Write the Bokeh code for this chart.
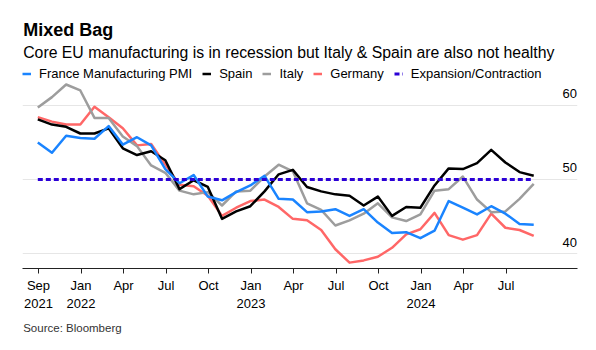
from bokeh.plotting import figure
from bokeh.models import (Range1d, FixedTicker, LinearAxis, Legend, LegendItem,
                          Title, Label)
from bokeh.embed import file_html
from bokeh.resources import INLINE

# ---- data (monthly PMI readings, month-end) ----
months = ["2021-09", "2021-10", "2021-11", "2021-12",
          "2022-01", "2022-02", "2022-03", "2022-04", "2022-05", "2022-06",
          "2022-07", "2022-08", "2022-09", "2022-10", "2022-11", "2022-12",
          "2023-01", "2023-02", "2023-03", "2023-04", "2023-05", "2023-06",
          "2023-07", "2023-08", "2023-09", "2023-10", "2023-11", "2023-12",
          "2024-01", "2024-02", "2024-03", "2024-04", "2024-05", "2024-06",
          "2024-07", "2024-08"]
france = [55.0, 53.6, 55.9, 55.6, 55.5, 57.2, 54.7, 55.7, 54.6, 51.4, 49.5, 50.6,
          47.7, 47.2, 48.3, 49.2, 50.5, 47.4, 47.3, 45.6, 45.7, 46.0, 45.1, 46.0,
          44.2, 42.8, 42.9, 42.1, 43.1, 47.1, 46.2, 45.3, 46.4, 45.4, 44.0, 43.9]
spain = [58.1, 57.4, 57.1, 56.2, 56.2, 56.9, 54.2, 53.3, 53.8, 52.6, 48.7, 49.9,
         49.0, 44.7, 45.7, 46.4, 48.4, 50.7, 51.3, 49.0, 48.4, 48.0, 47.8, 46.5,
         47.7, 45.1, 46.3, 46.2, 49.2, 51.5, 51.4, 52.2, 54.0, 52.3, 51.0, 50.5]
italy = [59.7, 61.1, 62.8, 62.0, 58.3, 58.3, 55.8, 54.5, 51.9, 50.9, 48.5, 48.0,
         48.3, 46.5, 48.4, 48.5, 50.4, 52.0, 51.1, 46.8, 45.9, 43.8, 44.5, 45.4,
         46.8, 44.9, 44.4, 45.3, 48.5, 48.7, 50.4, 47.3, 45.6, 45.7, 47.4, 49.4]
germany = [58.4, 57.8, 57.4, 57.4, 59.8, 58.4, 56.9, 54.6, 54.8, 52.0, 49.3, 49.1,
           47.8, 45.1, 46.2, 47.1, 47.3, 46.3, 44.7, 44.5, 43.2, 40.6, 38.8, 39.1,
           39.6, 40.8, 42.6, 43.3, 45.5, 42.5, 41.9, 42.5, 45.4, 43.5, 43.2, 42.4]
expansion = [50, 50, 50, 50, 50, 50, 50, 50, 50, 50, 50, 50,
             50, 50, 50, 50, 50, 50, 50, 50, 50, 50, 50, 50,
             50, 50, 50, 50, 50, 50, 50, 50, 50, 50, 50, 50]

x_tick_labels = ["Sep\n2021", "Jan\n2022", "Apr", "Jul", "Oct", "Jan\n2023",
                 "Apr", "Jul", "Oct", "Jan\n2024", "Apr", "Jul"]
y_ticks = [40, 50, 60]

series_names = ["France Manufacturing PMI", "Spain", "Italy", "Germany",
                "Expansion/Contraction"]

# ---- styling ----
FONT = "Liberation Sans"
C_FR = "#1a84ff"
C_ES = "#000000"
C_IT = "#9d9d9d"
C_DE = "#ff6767"
C_EX = "#2b00d6"

x = list(range(len(months)))
tick_pos = [0.05 + 3 * k for k in range(len(x_tick_labels))]

FB = 268  # frame bottom (canvas px); frame spans the full top area
Y0, Y1 = 38.01, 74.12
p = figure(width=596, height=350, output_backend="svg", toolbar_location=None,
           x_range=Range1d(-1.08, 38.09), y_range=Range1d(Y0, Y1),
           min_border_left=22, min_border_right=19, min_border_top=0,
           min_border_bottom=350 - FB, y_axis_location=None,
           outline_line_color=None, background_fill_color="white",
           border_fill_color="white")

p.xgrid.visible = False
p.ygrid.ticker = FixedTicker(ticks=y_ticks)
p.ygrid.grid_line_color = "#e6e6e6"
p.ygrid.grid_line_width = 1

xa = p.xaxis[0]
xa.ticker = FixedTicker(ticks=tick_pos)
xa.major_label_overrides = {t: lab for t, lab in zip(tick_pos, x_tick_labels)}
xa.axis_line_color = "#222222"
xa.major_tick_line_color = "#222222"
xa.minor_tick_line_color = None
xa.major_tick_in = 0
xa.major_tick_out = 5
xa.major_label_standoff = 4
xa.major_label_text_font = FONT
xa.major_label_text_font_size = "13px"
xa.major_label_text_color = "#000000"

# right-hand value labels, sitting just above their grid lines
SHIFT = 1.58
p.extra_y_ranges = {"lbl": Range1d(Y0 - SHIFT, Y1 - SHIFT)}
ya = LinearAxis(y_range_name="lbl", ticker=FixedTicker(ticks=y_ticks),
                axis_line_color=None, major_tick_line_color=None,
                minor_tick_line_color=None, major_tick_in=0, major_tick_out=0,
                major_label_standoff=-15, major_label_text_font=FONT,
                major_label_text_font_size="13px",
                major_label_text_color="#000000")
p.add_layout(ya, "right")

r_de = p.line(x, germany, line_color=C_DE, line_width=2.5, line_join="round")
r_it = p.line(x, italy, line_color=C_IT, line_width=2.5, line_join="round")
r_es = p.line(x, spain, line_color=C_ES, line_width=2.5, line_join="round")
r_fr = p.line(x, france, line_color=C_FR, line_width=2.5, line_join="round")
r_ex = p.line(x, expansion, line_color=C_EX, line_width=3, line_dash="5 3")

legend = Legend(items=[LegendItem(label=series_names[0], renderers=[r_fr]),
                       LegendItem(label=series_names[1], renderers=[r_es]),
                       LegendItem(label=series_names[2], renderers=[r_it]),
                       LegendItem(label=series_names[3], renderers=[r_de]),
                       LegendItem(label=series_names[4], renderers=[r_ex])],
                orientation="horizontal", location=(0, FB - 81),
                glyph_width=9, glyph_height=15, label_height=15,
                label_standoff=8, spacing=10, padding=0, margin=0,
                border_line_color=None, background_fill_alpha=0,
                label_text_font=FONT, label_text_font_size="13px",
                label_text_color="#000000")
p.add_layout(legend, "center")

p.add_layout(Label(x=0.7, y=FB - 29.3, x_units="screen", y_units="screen",
                   text="Mixed Bag", text_font=FONT, text_font_style="bold",
                   text_font_size="18px", text_baseline="alphabetic",
                   text_color="#000000"))
p.add_layout(Label(x=0.7, y=FB - 52, x_units="screen", y_units="screen",
                   text="Core EU manufacturing is in recession but Italy & Spain are also not healthy",
                   text_font=FONT, text_font_size="15.8px",
                   text_baseline="alphabetic", text_color="#000000"))

source = Title(text="Source: Bloomberg", align="left", offset=0.7, standoff=12,
               text_font=FONT, text_font_style="normal",
               text_font_size="11.5px", text_color="#333333")
p.add_layout(source, "below")

open("out.html", "w").write(file_html(p, INLINE))
